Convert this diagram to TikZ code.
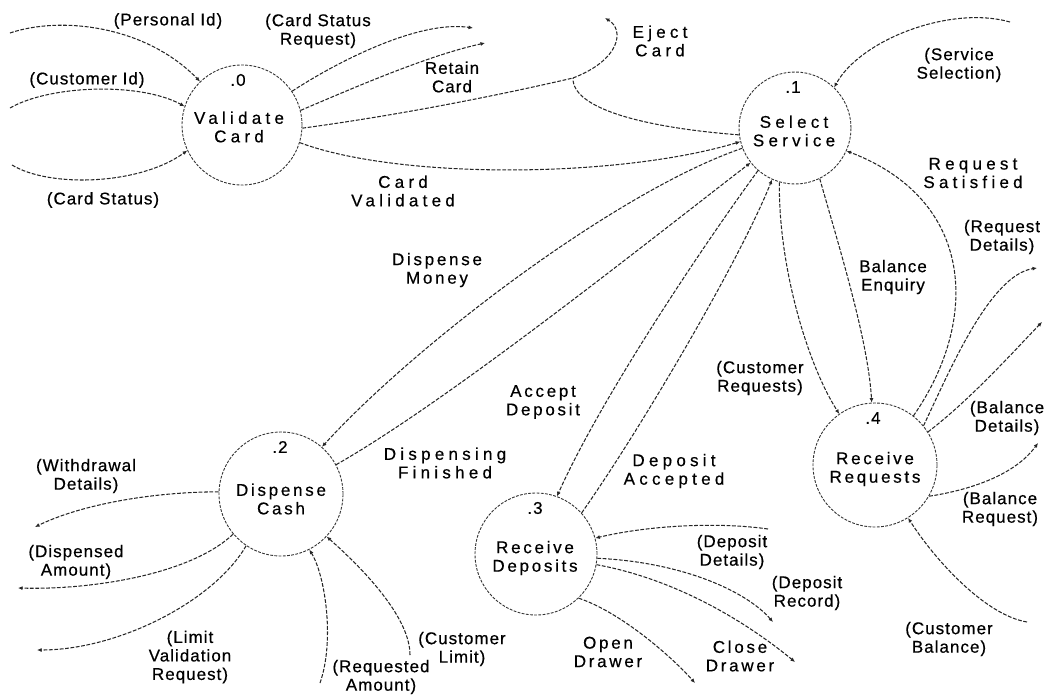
\documentclass[tikz,border=0pt]{standalone}
\usepackage{fontspec}
\setmainfont{Liberation Sans}
\newfontfamily\plainsp[LetterSpace=6,FakeBold=0.5]{Liberation Sans}
\newfontfamily\midsp[LetterSpace=16,FakeBold=0.5]{Liberation Sans}
\newfontfamily\widesp[LetterSpace=25,FakeBold=0.5]{Liberation Sans}
\usetikzlibrary{arrows.meta}

\begin{document}
\begin{tikzpicture}[x=1pt,y=-1pt,
  flow/.style={draw=black!85, line width=1.05pt, dash pattern=on 3.8pt off 1.6pt},
  into/.style={flow, -{Latex[length=4.5pt,width=4pt]}},
  proc/.style={circle, draw=black!80, line width=0.9pt,
    dash pattern=on 2.8pt off 1.4pt, inner sep=0pt, minimum size=#1},
  txt/.style={font=\fontsize{17}{18.5}\selectfont\plainsp, align=center, inner sep=0pt},
  mtxt/.style={font=\fontsize{17}{18.5}\selectfont\midsp, align=center, inner sep=0pt},
  wtxt/.style={font=\fontsize{17}{18.5}\selectfont\widesp, align=center, inner sep=0pt}
]
\useasboundingbox (0,0) rectangle (1049,696);

% processes
\node[proc=120pt] (V)  at (242,125) {};
\node[proc=112pt] (S)  at (795,128) {};
\node[proc=124pt] (DC) at (281,494) {};
\node[proc=122pt] (RD) at (536,554) {};
\node[proc=124pt] (RR) at (875,465) {};

\node[wtxt] (Vt)  at (239,127) {Validate\\Card};
\node[txt]  (Vn)  at (238,80)  {.0};
\node[wtxt] (St)  at (794,131) {Select\\Service};
\node[txt]  (Sn)  at (793,87)  {.1};
\node[mtxt] (DCt) at (281,499) {Dispense\\Cash};
\node[txt]  (DCn) at (280,447) {.2};
\node[mtxt] (RDt) at (535,558) {Receive\\Deposits};
\node[txt]  (RDn) at (535,508) {.3};
\node[mtxt] (RRt) at (875,469) {Receive\\Requests};
\node[txt]  (RRn) at (873,418) {.4};

% free ends of flows
\coordinate (pid)  at (10,33);
\coordinate (cid)  at (10,108);
\coordinate (cst)  at (12,165);
\coordinate (csr)  at (473,28);
\coordinate (ret)  at (485,43);
\coordinate (J)    at (573,78);
\coordinate (ej)   at (605,18);
\coordinate (ssel) at (1010,22);
\coordinate (rqd)  at (1037,268);
\coordinate (bd)   at (1042,322);
\coordinate (br)   at (1038,443);
\coordinate (cb)   at (1027,622);
\coordinate (wd)   at (35,527);
\coordinate (da)   at (18,588);
\coordinate (lvr)  at (37,650);
\coordinate (ra)   at (320,683);
\coordinate (cl)   at (410,655);
\coordinate (dd)   at (768,529);
\coordinate (dr)   at (773,622);
\coordinate (cd)   at (795,662);
\coordinate (od)   at (695,683);

% Validate Card
\draw[into] (pid) .. controls (60,16) and (145,25) .. (V.134);
\draw[into] (cid) .. controls (50,85) and (140,82) .. (V.162);
\draw[into] (cst) .. controls (50,188) and (140,185) .. (V.205);
\draw[into] (V.34) .. controls (340,60) and (420,20) .. (csr);
\draw[into] (V.14) .. controls (360,85) and (430,55) .. (ret);
\draw[flow] (V.-3) .. controls (400,115) and (500,95) .. (J);
\draw[into] (J) .. controls (620,60) and (625,30) .. (ej);
\draw[flow] (S.187) .. controls (650,128) and (572,110) .. (J);
\draw[into] (V.-17) .. controls (400,180) and (620,178) .. (S.194);

% Select Service
\draw[into] (ssel) .. controls (950,5) and (860,40) .. (S.46);
\draw[into] (S.201) .. controls (620,190) and (420,340) .. (DC.49);
\draw[into] (DC.28) .. controls (450,400) and (650,240) .. (S.218);
\draw[into] (S.229) .. controls (700,250) and (600,400) .. (RD.70);
\draw[into] (RD.42) .. controls (640,430) and (740,260) .. (S.246);
\draw[into] (S.254) .. controls (778,260) and (805,360) .. (RR.125);
\draw[into] (S.296) .. controls (840,250) and (868,340) .. (RR.93);
\draw[into] (RR.52) .. controls (980,320) and (975,200) .. (S.336);

% Receive Requests
\draw[into] (RR.39) .. controls (950,370) and (990,275) .. (rqd);
\draw[into] (RR.32) .. controls (970,400) and (1015,350) .. (bd);
\draw[into] (RR.-30) .. controls (970,490) and (1015,475) .. (br);
\draw[into] (cb) .. controls (985,615) and (935,560) .. (RR.-58);

% Dispense Cash
\draw[into] (DC.178) .. controls (150,492) and (80,505) .. (wd);
\draw[into] (DC.220) .. controls (190,575) and (90,590) .. (da);
\draw[into] (DC.236) .. controls (215,600) and (120,650) .. (lvr);
\draw[into] (ra) .. controls (335,640) and (325,575) .. (DC.297);
\draw[into] (cl) .. controls (410,620) and (370,575) .. (DC.317);

% Receive Deposits
\draw[into] (dd) .. controls (720,522) and (650,525) .. (RD.15);
\draw[into] (RD.-4) .. controls (680,562) and (745,590) .. (dr);
\draw[into] (RD.-10) .. controls (680,580) and (750,625) .. (cd);
\draw[into] (RD.-46) .. controls (620,612) and (670,655) .. (od);

% flow labels
\node[txt]  (lpid) at (168,21)  {(Personal Id)};
\node[txt]  (lcid) at (87,80)   {(Customer Id)};
\node[txt]  (lcst) at (103,200) {(Card Status)};
\node[txt]  (lcsr) at (318,31)  {(Card Status\\Request)};
\node[txt]  (lret) at (452,77)  {Retain\\Card};
\node[wtxt] (lej)  at (660,41)  {Eject\\Card};
\node[wtxt] (lcv)  at (403,191) {Card\\Validated};
\node[txt]  (lss)  at (959,65)  {(Service\\Selection)};
\node[wtxt] (lrs)  at (973,173) {Request\\Satisfied};
\node[mtxt] (ldm)  at (437,270) {Dispense\\Money};
\node[mtxt] (lad)  at (543,402) {Accept\\Deposit};
\node[wtxt] (ldf)  at (445,463) {Dispensing\\Finished};
\node[wtxt] (ldac) at (674,471) {Deposit\\Accepted};
\node[txt]  (lbe)  at (893,277) {Balance\\Enquiry};
\node[txt]  (lcr)  at (760,378) {(Customer\\Requests)};
\node[txt]  (lrqd) at (1002,237) {(Request\\Details)};
\node[txt]  (lbd)  at (1007,418) {(Balance\\Details)};
\node[txt]  (lbr)  at (1000,509) {(Balance\\Request)};
\node[txt]  (lcb)  at (949,639) {(Customer\\Balance)};
\node[txt]  (ldd)  at (732,552) {(Deposit\\Details)};
\node[txt]  (ldr)  at (807,593) {(Deposit\\Record)};
\node[mtxt] (lcd)  at (740,656) {Close\\Drawer};
\node[mtxt] (lod)  at (608,652) {Open\\Drawer};
\node[txt]  (lwd)  at (86,476)  {(Withdrawal\\Details)};
\node[txt]  (lda)  at (76,562)  {(Dispensed\\Amount)};
\node[txt]  (llvr) at (190,657) {(Limit\\Validation\\Request)};
\node[txt]  (lra)  at (381,677) {(Requested\\Amount)};
\node[txt]  (lcl)  at (462,649) {(Customer\\Limit)};
\end{tikzpicture}
\end{document}
